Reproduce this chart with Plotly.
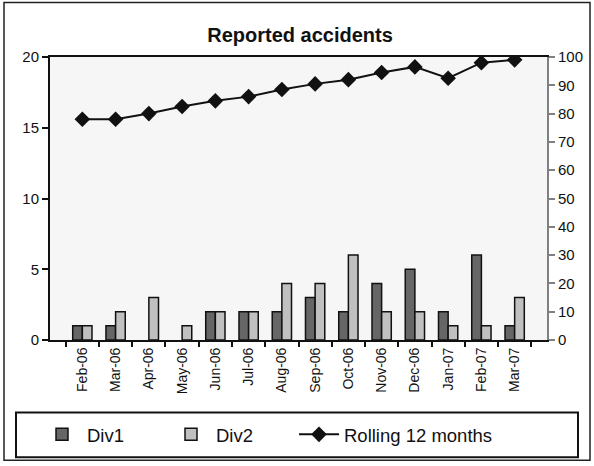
import plotly.graph_objects as go

months = ["Feb-06", "Mar-06", "Apr-06", "May-06", "Jun-06", "Jul-06", "Aug-06",
          "Sep-06", "Oct-06", "Nov-06", "Dec-06", "Jan-07", "Feb-07", "Mar-07"]
div1 = [1, 1, 0, 0, 2, 2, 2, 3, 2, 4, 5, 2, 6, 1]
div2 = [1, 2, 3, 1, 2, 2, 4, 4, 6, 2, 2, 1, 1, 3]
rolling = [78, 78, 80, 82.5, 84.5, 86, 88.5, 90.5, 92, 94.5, 96.5, 92.5, 98, 99]

FONT = "Liberation Sans, Arial, sans-serif"

def edge(vals):
    return [0 if v == 0 else 1.5 for v in vals]

fig = go.Figure()
fig.add_trace(go.Bar(x=months, y=div1, name="Div1", legend="legend",
                     marker=dict(color="#666666", line=dict(color="#111111", width=edge(div1)))))
fig.add_trace(go.Bar(x=months, y=div2, name="Div2", legend="legend2",
                     marker=dict(color="#c0c0c0", line=dict(color="#111111", width=edge(div2)))))
fig.add_trace(go.Scatter(x=months, y=rolling, name="Rolling 12 months", yaxis="y2",
                         legend="legend3", mode="lines+markers",
                         line=dict(color="#111111", width=2),
                         marker=dict(symbol="diamond", size=12, color="#111111")))

L, R, T, B = 50, 47, 57, 124
W, H = 594, 466
pw, ph = W - L - R, H - T - B

def px(x):
    return (x - L) / pw

def py(y):
    return (H - B - y) / ph

def leg(x):
    return dict(orientation="h", x=px(x), y=py(437.5), xanchor="left", yanchor="middle",
                font=dict(size=18.5, family=FONT, color="#111111"),
                bgcolor="rgba(0,0,0,0)", borderwidth=0, itemwidth=40)

fig.update_layout(
    width=W, height=H,
    margin=dict(l=L, r=R, t=T, b=B),
    paper_bgcolor="white",
    plot_bgcolor="#f6f6f6",
    font=dict(family=FONT, size=14, color="#111111"),
    title=dict(text="<b>Reported accidents</b>", x=px(300), xref="paper",
               xanchor="center", y=1 - 35 / H, yanchor="middle",
               font=dict(size=20, family=FONT, color="#111111")),
    barmode="group", bargap=0.42, bargroupgap=0,
    showlegend=True,
    legend=leg(37), legend2=leg(166), legend3=leg(294),
    xaxis=dict(showline=True, linecolor="#111111", linewidth=2, mirror=True,
               ticks="outside", ticklen=5, tickcolor="#111111", tickwidth=2,
               tickson="boundaries", tickangle=-90, showgrid=False,
               tickfont=dict(size=14)),
    yaxis=dict(range=[0, 20], dtick=5, showline=True, linecolor="#111111", linewidth=2,
               ticks="outside", ticklen=6, tickcolor="#111111", tickwidth=2,
               showgrid=False, zeroline=False, tickfont=dict(size=15)),
    yaxis2=dict(range=[0, 100], dtick=10, overlaying="y", side="right",
                showline=True, linecolor="#808080", linewidth=2,
                ticks="outside", ticklen=6, tickcolor="#808080", tickwidth=2,
                showgrid=False, zeroline=False, tickfont=dict(size=15)),
    shapes=[
        dict(type="rect", xref="paper", yref="paper",
             x0=px(4), x1=px(590), y0=py(463), y1=py(2),
             line=dict(color="#222222", width=1.5), layer="below"),
        dict(type="rect", xref="paper", yref="paper",
             x0=px(16), x1=px(578), y0=py(460), y1=py(415),
             line=dict(color="#111111", width=2), layer="below"),
    ],
)

fig.write_html("out.html", config={"displayModeBar": False})
with open("out.html", "r", encoding="utf-8") as f:
    html = f.read()
html = html.replace("<body>", "<body style=\"margin:0;padding:0;\">", 1)
with open("out.html", "w", encoding="utf-8") as f:
    f.write(html)
